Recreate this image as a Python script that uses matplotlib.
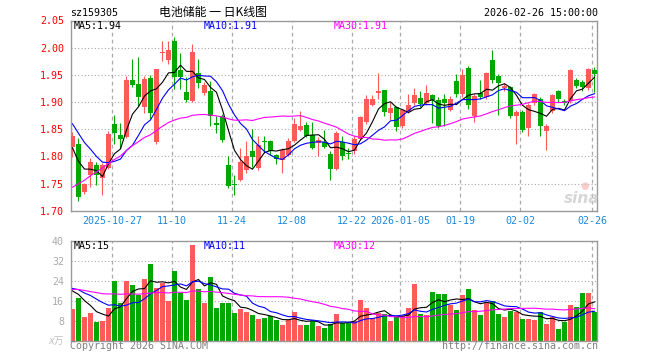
import numpy as np
import pandas as pd
import matplotlib
matplotlib.use('Agg')
import matplotlib.pyplot as plt

# Date axis
tick_dates = ['2025-10-27', '2025-11-10', '2025-11-24', '2025-12-08', '2025-12-22',
              '2026-01-05', '2026-01-19', '2026-02-02', '2026-02-26']
tick_labels = ['2025-10-27', '11-10', '11-24', '12-08', '12-22',
               '2026-01-05', '01-19', '02-02', '02-26']
holidays = ['2026-01-01', '2026-01-02', '2026-02-16', '2026-02-17', '2026-02-18',
            '2026-02-19', '2026-02-20', '2026-02-23']

# Daily OHLC (yuan)
open_ = [1.818, 1.822, 1.735, 1.766, 1.784, 1.760, 1.779, 1.859, 1.840, 1.836,
         1.941, 1.934, 1.890, 1.945, 1.826, 1.990, 1.978, 2.013, 1.958, 1.918,
         1.902, 1.953, 1.916, 1.920, 1.861, 1.874, 1.785, 1.750, 1.757, 1.775,
         1.809, 1.778, 1.829, 1.828, 1.803, 1.794, 1.803, 1.829, 1.849, 1.858,
         1.840, 1.824, 1.826, 1.805, 1.777, 1.826, 1.806, 1.809, 1.832, 1.863,
         1.895, 1.917, 1.923, 1.880, 1.890, 1.855, 1.881, 1.898, 1.908, 1.898,
         1.912, 1.903, 1.905, 1.886, 1.938, 1.914, 1.962, 1.874, 1.917, 1.909,
         1.977, 1.948, 1.925, 1.927, 1.874, 1.882, 1.853, 1.898, 1.905, 1.846,
         1.883, 1.920, 1.901, 1.901, 1.941, 1.937, 1.926, 1.958]
high = [1.845, 1.833, 1.751, 1.797, 1.790, 1.787, 1.846, 1.877, 1.861, 1.947,
        1.980, 1.982, 1.947, 1.949, 1.961, 2.013, 2.013, 2.020, 1.990, 1.946,
        2.006, 1.979, 1.937, 1.938, 1.874, 1.878, 1.800, 1.765, 1.815, 1.828,
        1.850, 1.837, 1.837, 1.830, 1.805, 1.815, 1.834, 1.871, 1.883, 1.864,
        1.864, 1.835, 1.849, 1.810, 1.846, 1.837, 1.815, 1.837, 1.875, 1.912,
        1.912, 1.953, 1.923, 1.900, 1.893, 1.888, 1.914, 1.925, 1.920, 1.932,
        1.915, 1.909, 1.915, 1.911, 1.951, 1.960, 1.967, 1.914, 1.940, 1.956,
        1.995, 1.952, 1.935, 1.930, 1.885, 1.885, 1.898, 1.917, 1.910, 1.860,
        1.915, 1.923, 1.905, 1.961, 1.945, 1.940, 1.963, 1.965]
low = [1.798, 1.717, 1.731, 1.744, 1.748, 1.728, 1.776, 1.822, 1.815, 1.833,
       1.927, 1.893, 1.880, 1.868, 1.822, 1.975, 1.970, 1.924, 1.924, 1.900,
       1.900, 1.925, 1.913, 1.856, 1.843, 1.826, 1.742, 1.728, 1.755, 1.770,
       1.780, 1.775, 1.806, 1.803, 1.786, 1.770, 1.800, 1.827, 1.846, 1.835,
       1.814, 1.800, 1.815, 1.757, 1.775, 1.794, 1.795, 1.805, 1.830, 1.860,
       1.893, 1.905, 1.875, 1.866, 1.847, 1.852, 1.879, 1.895, 1.890, 1.895,
       1.861, 1.852, 1.855, 1.883, 1.910, 1.910, 1.887, 1.864, 1.905, 1.905,
       1.935, 1.877, 1.920, 1.870, 1.823, 1.845, 1.837, 1.895, 1.837, 1.811,
       1.880, 1.900, 1.895, 1.898, 1.925, 1.920, 1.922, 1.918]
close = [1.838, 1.726, 1.749, 1.789, 1.766, 1.785, 1.842, 1.843, 1.832, 1.940,
         1.932, 1.909, 1.942, 1.879, 1.960, 1.992, 1.995, 1.946, 1.946, 1.903,
         1.992, 1.935, 1.931, 1.874, 1.857, 1.831, 1.745, 1.748, 1.790, 1.800,
         1.799, 1.820, 1.826, 1.809, 1.795, 1.812, 1.828, 1.860, 1.855, 1.837,
         1.816, 1.831, 1.818, 1.777, 1.843, 1.801, 1.804, 1.832, 1.872, 1.906,
         1.905, 1.921, 1.881, 1.889, 1.854, 1.885, 1.894, 1.912, 1.896, 1.916,
         1.903, 1.856, 1.898, 1.906, 1.914, 1.949, 1.895, 1.911, 1.909, 1.954,
         1.940, 1.935, 1.930, 1.874, 1.882, 1.849, 1.895, 1.914, 1.855, 1.856,
         1.912, 1.905, 1.898, 1.959, 1.929, 1.927, 1.960, 1.952]
# Volume (万手)
volume = [12.8, 17.1, 9.6, 11.1, 7.5, 7.9, 13.2, 24.0, 15.1, 24.0,
          22.3, 18.1, 24.7, 30.7, 21.1, 23.2, 15.9, 27.9, 19.2, 16.3,
          38.3, 20.7, 15.1, 25.5, 13.1, 15.1, 15.1, 11.1, 12.7, 11.5,
          10.3, 8.7, 9.1, 9.9, 8.3, 6.3, 8.3, 11.5, 6.3, 6.3,
          7.7, 5.9, 5.1, 6.5, 10.7, 6.9, 7.2, 7.9, 16.3, 13.1,
          9.0, 10.9, 10.7, 7.9, 9.5, 10.0, 13.1, 22.7, 10.7, 10.3,
          19.5, 18.7, 18.7, 14.3, 12.3, 18.3, 20.7, 12.3, 10.3, 15.2,
          15.7, 10.7, 9.5, 11.9, 11.5, 8.7, 8.7, 8.3, 11.5, 6.7,
          9.5, 4.7, 7.6, 14.3, 13.5, 19.1, 19.1, 11.5]

# sessions before the window, only feeding the moving averages (estimated)
prev_close = [1.54, 1.55, 1.54, 1.56, 1.56, 1.60, 1.62, 1.64, 1.63, 1.67,
              1.69, 1.71, 1.73, 1.72, 1.76, 1.79, 1.81, 1.84, 1.86, 1.88,
              1.90, 1.92, 1.91, 1.90, 1.89, 1.85, 1.82, 1.79, 1.78]
prev_volume = [18, 22, 25, 19, 21, 17, 23, 20, 18, 24,
               21, 19, 22, 17, 20, 23, 18, 21, 19, 20,
               22, 23, 21, 22, 21.5, 24, 22, 21, 19.7]

ma_labels_price = ['MA5:1.94', 'MA10:1.91', 'MA30:1.91']
ma_labels_vol = ['MA5:15', 'MA10:11', 'MA30:12']
ma_colors = ['#000000', '#0000ff', '#ff00ff']

RED = '#ff5a5a'
GREEN = '#00a800'
GRID = '#aaaaaa'
MONO = 'DejaVu Sans Mono'

days = pd.bdate_range('2025-10-16', '2026-02-26')
days = days[~days.isin(pd.to_datetime(holidays))]
x = np.arange(len(close))
tick_pos = [days.get_loc(pd.Timestamp(d)) - 0.4 for d in tick_dates]

o = np.array(open_)
c = np.array(close)
up = c >= o
colors = np.where(up, RED, GREEN)

full_close = pd.Series(prev_close + close)
full_vol = pd.Series(prev_volume + volume)
n0 = len(prev_close)
ma_p = [full_close.rolling(n).mean().values[n0:] for n in (5, 10, 30)]
ma_v = [full_vol.rolling(n).mean().values[n0:] for n in (5, 10, 30)]

W, H = 660, 360
fig = plt.figure(figsize=(W / 100, H / 100), dpi=100)
fig.patch.set_facecolor('white')

ax = fig.add_axes([71 / W, 1 - 210.7 / H, 526 / W, 190.2 / H])
vax = fig.add_axes([71 / W, 1 - 340.7 / H, 526 / W, 100 / H])

for a in (ax, vax):
    a.set_xlim(-0.25, 87.42)
    for s in a.spines.values():
        s.set_color('#999999')
        s.set_linewidth(1.0)
    for p in tick_pos:
        a.axvline(p, color=GRID, lw=0.9, ls=(0, (3, 2.6)), zorder=0)
    a.tick_params(length=0)

# price panel
for y in [1.75, 1.80, 1.85, 1.90, 1.95, 2.00]:
    ax.axhline(y, color=GRID, lw=0.8, ls=(0, (1, 2)), zorder=0)

ax.vlines(x, low, high, colors=colors, lw=0.8, zorder=2)
body = np.maximum(np.abs(c - o), 0.0012)
ax.bar(x, body, bottom=np.minimum(o, c), width=0.8, color=colors, zorder=3)
for m, col in zip(ma_p, ma_colors):
    ax.plot(x, m, color=col, lw=0.8, zorder=4)

ax.set_ylim(1.70, 2.05)
ticks = [1.70, 1.75, 1.80, 1.85, 1.90, 1.95, 2.00, 2.05]
ax.set_yticks(ticks)
ax.set_yticklabels(['%.2f' % t for t in ticks], color='#ff0000', fontsize=7.2, family=MONO)
ax.tick_params(axis='y', pad=5)
ax.set_xticks(tick_pos)
ax.set_xticklabels(tick_labels, color='#1a88dd', fontsize=7.2, family=MONO)
ax.tick_params(axis='x', pad=4)

# volume panel
for y in [8, 16, 24, 32]:
    vax.axhline(y, color=GRID, lw=0.8, ls=(0, (1, 2)), zorder=0)
vax.bar(x, volume, width=0.8, color=colors, zorder=2)
for m, col in zip(ma_v, ma_colors):
    vax.plot(x, m, color=col, lw=0.8, zorder=4)
vax.set_ylim(0, 40)
vax.set_yticks([8, 16, 24, 32, 40])
vax.set_yticklabels(['8', '16', '24', '32', '40'], color='#aaaaaa', fontsize=7.2, family=MONO)
vax.tick_params(axis='y', pad=5)
vax.set_xticks([])


def ftext(px, py, s, **kw):
    fig.text(px / W, 1 - py / H, s, va='center', **kw)


# header
ftext(70, 13, 'sz159305', fontsize=7.2, family=MONO, color='black')
ftext(213, 12, '电池储能 一 日K线图', fontsize=8.6, family=['Noto Sans CJK SC', 'DejaVu Sans'],
      color='black', ha='center')
ftext(598, 13, '2026-02-26 15:00:00', fontsize=7.2, family=MONO, color='black', ha='right')

# moving-average captions
for s, col, px in zip(ma_labels_price, ma_colors, [74, 204, 334]):
    ftext(px, 26, s, fontsize=7.2, family=MONO, color=col)
for s, col, px in zip(ma_labels_vol, ma_colors, [74, 204, 334]):
    ftext(px, 246, s, fontsize=7.2, family=MONO, color=col)

ftext(64, 341, 'x万', fontsize=7, family=['DejaVu Sans', 'Noto Sans CJK SC'], color='#c0c0c0',
      ha='right', style='italic')
ftext(70, 346, 'Copyright 2026 SINA.COM', fontsize=7.2, family=MONO, color='#808080')
ftext(598, 346, 'http://finance.sina.com.cn', fontsize=7.2, family=MONO, color='#808080', ha='right')

# watermark
ftext(582, 198, 'sina', fontsize=11, family='DejaVu Sans', color='#cccccc',
      ha='center', weight='bold', style='italic', alpha=0.8)
ftext(585, 186, '●', fontsize=7, family='DejaVu Sans', color='#f4b8b8', ha='center', alpha=0.7)

fig.savefig('out.png', dpi=100)
